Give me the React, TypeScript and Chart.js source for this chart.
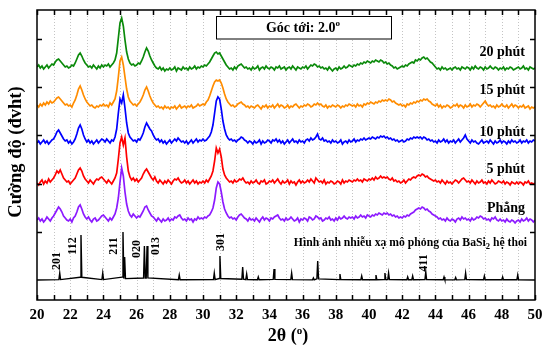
import React, { useEffect, useRef } from "react";
import { Chart, registerables } from "chart.js";

Chart.register(...registerables);

// 2θ sampling grid (degrees), 20.0 … 50.0 in 0.1° steps
const theta: number[] = Array.from({ length: 301 }, (_, i) => Math.round((20 + i * 0.1) * 10) / 10);

// Measured intensities (arbitrary units, stacked as plotted)
const phang = [
  80,82,79,81,78,80,83,81,79,82,
  84,87,90,93,91,88,84,82,80,79,
  81,78,82,84,88,93,95,91,86,83,
  81,83,80,78,81,82,79,80,82,84,
  85,83,81,79,82,80,83,86,92,102,
  118,132,124,108,96,89,85,83,86,84,
  82,84,83,86,89,93,94,90,87,84,
  83,81,79,82,80,78,81,79,80,82,
  79,81,80,83,82,84,85,82,80,81,
  79,82,80,81,78,81,80,83,81,82,
  81,83,82,84,85,88,92,100,112,118,
  116,108,98,91,87,84,82,83,81,82,
  80,83,85,86,84,82,81,79,82,80,
  81,79,82,80,78,81,83,80,82,81,
  79,82,81,83,84,85,82,80,81,79,
  82,80,81,83,81,79,80,82,78,81,
  80,82,81,79,83,82,80,81,84,83,
  81,82,79,80,82,81,83,80,81,79,
  82,80,83,81,82,84,82,81,83,82,
  83,81,84,82,83,85,83,84,82,85,
  84,83,85,84,86,85,87,86,85,87,
  86,87,85,86,84,85,83,84,82,83,
  82,84,83,85,84,86,87,88,90,91,
  92,91,93,92,90,91,89,88,86,85,
  84,83,81,82,80,81,79,82,80,79,
  81,80,78,81,82,80,83,81,82,80,
  81,79,82,80,81,83,82,84,83,81,
  82,80,81,79,82,81,83,80,79,81,
  79,80,78,81,79,78,80,79,77,79,
  80,78,81,79,80,82,79,81,80,78,
  80,
];

const phut5 = [
  117,115,118,120,116,119,117,121,118,120,
  122,125,129,127,130,126,122,120,118,119,
  116,118,120,122,126,130,132,129,124,121,
  119,117,120,118,116,119,121,120,122,123,
  121,119,117,120,118,116,119,122,127,141,
  157,163,155,162,143,129,123,120,122,119,
  121,118,120,122,126,129,131,128,125,122,
  120,123,119,117,120,118,116,119,117,120,
  118,116,119,121,120,122,119,117,118,120,
  117,119,116,118,120,117,119,116,118,117,
  119,117,120,118,121,124,129,139,152,147,
  151,143,131,125,122,120,118,119,117,120,
  118,119,121,120,122,119,117,118,116,119,
  117,118,120,117,116,119,118,120,116,117,
  119,118,120,117,119,121,118,116,119,117,
  118,120,116,119,117,118,115,118,120,117,
  119,117,118,120,118,121,119,117,122,120,
  118,119,117,120,116,118,117,119,118,116,
  117,119,118,116,120,117,119,118,120,119,
  118,120,119,121,119,120,118,121,120,119,
  121,120,122,120,123,121,122,124,122,123,
  122,123,121,120,122,119,120,118,119,117,
  118,120,117,119,121,120,122,123,122,124,
  125,124,126,125,123,124,122,121,120,119,
  120,118,119,117,120,118,116,119,117,118,
  116,118,120,119,117,119,121,122,120,118,
  119,117,120,118,116,119,117,118,120,117,
  118,116,119,117,120,118,116,117,119,118,
  117,119,116,118,117,115,118,117,116,118,
  116,118,117,115,118,117,119,116,117,116,
  117,
];

const phut10 = [
  157,159,156,158,160,157,159,156,158,160,
  161,164,168,170,167,164,161,159,160,157,
  159,156,158,161,166,172,175,171,165,161,
  158,160,157,159,156,158,160,157,159,161,
  160,158,161,159,157,160,159,163,171,187,
  201,197,205,192,177,167,163,161,159,160,
  158,161,160,163,167,173,177,174,171,169,
  165,162,160,161,158,160,157,159,156,158,
  160,157,159,161,159,162,160,158,159,157,
  159,156,158,160,157,159,161,158,160,159,
  161,159,160,162,164,168,175,187,199,203,
  201,191,179,171,165,162,160,161,159,160,
  158,160,161,163,162,160,159,157,159,158,
  156,159,157,158,160,156,159,157,158,160,
  159,157,160,159,161,158,160,157,159,156,
  158,160,157,159,161,158,159,157,160,158,
  159,157,160,161,159,162,160,161,163,166,
  161,160,162,159,160,158,159,157,160,158,
  159,157,158,160,156,158,159,157,160,158,
  159,161,158,160,159,161,160,162,160,161,
  162,161,163,162,161,163,162,164,163,164,
  162,163,161,162,160,161,159,160,158,159,
  160,158,159,161,160,162,161,163,162,163,
  162,163,161,163,162,160,161,159,160,158,
  159,157,160,158,159,161,158,160,157,159,
  158,160,157,159,161,158,160,162,165,161,
  159,157,160,158,159,157,156,158,160,157,
  158,159,157,160,158,156,159,157,158,160,
  157,159,158,156,159,157,160,158,159,157,
  158,160,157,159,158,160,157,159,158,160,
  159,
];

const phut15 = [
  195,193,196,194,197,195,198,196,199,197,
  198,200,202,203,201,199,197,195,196,194,
  195,193,197,200,205,211,214,210,205,201,
  198,196,194,195,193,192,194,193,195,194,
  196,194,195,193,197,195,198,201,209,223,
  239,243,235,223,211,203,199,197,195,196,
  194,196,198,201,205,210,213,209,204,200,
  197,195,193,194,192,193,191,194,192,193,
  191,193,192,194,191,193,195,192,193,194,
  192,194,193,195,192,193,194,196,194,195,
  196,195,198,200,204,209,214,218,220,219,
  220,217,212,206,201,198,196,194,195,193,
  194,196,197,198,196,195,193,194,192,194,
  193,192,194,195,193,191,194,193,195,192,
  194,193,195,192,194,196,193,195,194,192,
  193,195,192,194,193,195,196,194,192,194,
  193,195,194,196,195,193,194,196,195,197,
  195,196,194,193,195,192,194,193,195,194,
  193,195,194,192,194,193,195,194,196,195,
  194,195,193,196,194,195,193,196,195,197,
  196,198,197,196,198,197,199,198,200,199,
  200,199,201,200,198,199,197,196,195,196,
  194,195,193,196,195,197,196,198,197,199,
  198,200,199,201,200,201,199,198,196,195,
  194,196,193,195,192,194,193,195,194,192,
  193,195,194,196,193,195,194,192,195,193,
  194,196,193,195,194,196,195,193,195,197,
  199,196,194,195,193,194,192,195,193,194,
  196,194,193,195,192,194,196,193,195,194,
  192,194,193,195,192,193,194,191,193,192,
  193,
];

const phut20 = [
  233,235,232,234,231,233,235,232,234,236,
  235,238,240,241,239,237,235,233,234,232,
  233,235,234,237,241,245,247,244,240,237,
  235,233,234,232,235,233,231,234,232,235,
  233,235,234,236,233,235,237,240,247,262,
  277,282,274,260,248,241,237,235,236,234,
  235,237,236,239,243,248,252,249,244,240,
  237,234,232,231,233,230,232,229,231,230,
  232,230,231,233,229,232,231,230,233,231,
  232,230,233,231,232,234,231,233,232,234,
  233,235,234,236,238,241,244,247,248,246,
  247,244,241,238,235,233,231,232,230,233,
  231,234,235,236,234,232,233,231,232,230,
  233,231,232,234,230,232,233,231,234,232,
  231,233,232,230,233,232,234,231,232,233,
  230,232,233,231,234,232,230,233,232,231,
  233,232,234,231,233,235,234,236,235,233,
  234,232,233,231,232,230,233,231,229,231,
  232,230,233,231,232,234,232,233,235,234,
  233,235,234,236,235,237,236,238,237,239,
  238,237,239,238,240,239,238,240,239,237,
  238,236,237,235,234,232,233,231,232,233,
  234,233,235,234,236,237,238,237,240,239,
  241,240,242,243,241,242,240,238,237,235,
  233,231,232,230,233,231,232,230,231,232,
  230,232,233,231,232,230,233,232,231,233,
  232,230,233,231,234,232,231,233,232,230,
  233,231,232,234,232,231,233,232,230,232,
  231,233,230,232,231,233,232,230,231,232,
  233,231,232,234,231,232,230,233,232,231,
  232,
];

// Simulated BaSi2 (orthorhombic) pattern: peak positions (2θ) and heights
const simBaseline = 20;
const simPeakPos = [21.37, 22.65, 23.96, 25.18, 25.28, 26.47, 26.63, 28.57, 30.68, 31.02, 32.39, 32.63, 33.33, 34.28, 35.34, 36.65, 36.91, 38.25, 39.56, 40.42, 40.96, 41.18, 42.33, 42.63, 43.42, 44.52, 45.22, 45.82, 46.95, 48.05, 48.96];
const simPeakHeight = [7, 45, 7, 48, 23, 34, 34, 5, 7, 24, 13, 6, 3, 11, 7, 2, 19, 6, 4, 5, 7, 7, 3, 4, 8, 3, 2.5, 7, 4, 3, 5];

// Miller index labels
const hklText = ["201", "112", "211", "020", "013", "301", "411"];
const hklX = [21.2, 22.17, 24.64, 26.02, 27.17, 31.08, 43.3];
const hklY = [39, 54, 54, 51, 54, 58, 37];

const seriesNames = ["Phẳng", "5 phút", "10 phút", "15 phút", "20 phút"];
const seriesColors = ["#8c1aff", "#ff0000", "#0000ff", "#ff8c00", "#0a8a0a"];
const seriesLabelY = [93, 132, 169, 211, 249];

const xTickStart = 20;
const xTickEnd = 50;
const yTickValues = [68, 116, 165, 213, 261];

const SERIF = "'Liberation Serif', 'Times New Roman', 'DejaVu Serif', serif";

type Part = { t: string; size: number; dy?: number };

function drawRich(ctx: CanvasRenderingContext2D, parts: Part[], x: number, y: number, align: "left" | "center" | "right") {
  ctx.save();
  ctx.textBaseline = "alphabetic";
  ctx.textAlign = "left";
  let total = 0;
  const widths = parts.map((p) => {
    ctx.font = `bold ${p.size}px ${SERIF}`;
    const w = ctx.measureText(p.t).width;
    total += w;
    return w;
  });
  let cx = align === "left" ? x : align === "center" ? x - total / 2 : x - total;
  parts.forEach((p, i) => {
    ctx.font = `bold ${p.size}px ${SERIF}`;
    ctx.fillText(p.t, cx, y + (p.dy || 0));
    cx += widths[i];
  });
  ctx.restore();
}

const overlay = {
  id: "overlay",
  beforeDatasetsDraw(chart: any) {
    const { ctx, chartArea } = chart;
    const { top, bottom } = chartArea;
    const xs = chart.scales.x;
    ctx.save();
    ctx.strokeStyle = "#c4c4c4";
    ctx.lineWidth = 1;
    ctx.setLineDash([1, 2]);
    for (let v = xTickStart + 1; v < xTickEnd; v++) {
      const px = Math.round(xs.getPixelForValue(v)) + 0.5;
      ctx.beginPath();
      ctx.moveTo(px, top);
      ctx.lineTo(px, bottom);
      ctx.stroke();
    }
    ctx.restore();
  },
  afterDatasetsDraw(chart: any) {
    const { ctx, chartArea } = chart;
    const { left, right, top, bottom } = chartArea;
    const xs = chart.scales.x;
    const ys = chart.scales.y;
    ctx.save();
    ctx.strokeStyle = "#000";
    ctx.fillStyle = "#000";
    ctx.lineWidth = 1.5;
    ctx.setLineDash([]);
    ctx.strokeRect(left, top, right - left, bottom - top);
    // inward ticks
    ctx.beginPath();
    for (let v = xTickStart; v <= xTickEnd; v++) {
      const px = Math.round(xs.getPixelForValue(v)) + 0.5;
      ctx.moveTo(px, bottom);
      ctx.lineTo(px, bottom - 5);
      ctx.moveTo(px, top);
      ctx.lineTo(px, top + 5);
    }
    yTickValues.forEach((v) => {
      const py = Math.round(ys.getPixelForValue(v)) + 0.5;
      ctx.moveTo(left, py);
      ctx.lineTo(left + 5, py);
      ctx.moveTo(right, py);
      ctx.lineTo(right - 5, py);
    });
    ctx.stroke();

    // incidence-angle box
    ctx.fillStyle = "#fff";
    ctx.fillRect(216, 16.5, 175, 22.5);
    ctx.lineWidth = 1;
    ctx.strokeRect(216.5, 16.5, 175, 22.5);
    ctx.fillStyle = "#000";
    drawRich(ctx, [{ t: "Góc tới: 2.0", size: 14 }, { t: "o", size: 9, dy: -6 }], 303, 32, "center");

    // series labels
    seriesNames.forEach((n, i) => {
      const py = ys.getPixelForValue(seriesLabelY[i]);
      drawRich(ctx, [{ t: n, size: 14 }], 525, py + 5, "right");
    });

    // simulation caption
    drawRich(
      ctx,
      [
        { t: "Hình ảnh nhiễu xạ mô phỏng của BaSi", size: 11.7 },
        { t: "2", size: 8.5, dy: 3 },
        { t: " hệ thoi", size: 11.7 },
      ],
      527,
      246,
      "right"
    );

    // hkl labels
    ctx.font = `bold 12px ${SERIF}`;
    ctx.textAlign = "center";
    ctx.textBaseline = "middle";
    hklText.forEach((t, i) => {
      ctx.save();
      ctx.translate(xs.getPixelForValue(hklX[i]), ys.getPixelForValue(hklY[i]));
      ctx.rotate(-Math.PI / 2);
      ctx.fillText(t, 0, 0);
      ctx.restore();
    });

    // axis titles
    ctx.save();
    ctx.translate(16, 152);
    ctx.rotate(-Math.PI / 2);
    ctx.font = `bold 18.5px ${SERIF}`;
    ctx.textAlign = "center";
    ctx.textBaseline = "middle";
    ctx.fillText("Cường độ (đvht)", 0, 0);
    ctx.restore();

    drawRich(
      ctx,
      [
        { t: "2θ (", size: 18 },
        { t: "o", size: 11, dy: -7 },
        { t: ")", size: 18 },
      ],
      288,
      341,
      "center"
    );
    ctx.restore();
  },
};

export default function App() {
  const ref = useRef<HTMLCanvasElement | null>(null);
  useEffect(() => {
    document.body.style.margin = "0";
    const canvas = ref.current;
    if (!canvas) return;

    const simPoints: { x: number; y: number }[] = [];
    simPeakPos.forEach((p, i) => {
      const h = simPeakHeight[i];
      simPoints.push({ x: p - 0.05, y: simBaseline + 0.06 * h });
      simPoints.push({ x: p, y: simBaseline + h });
      simPoints.push({ x: p + 0.05, y: simBaseline + 0.06 * h });
    });
    simPoints.sort((a, b) => a.x - b.x);
    simPoints.unshift({ x: xTickStart, y: simBaseline });
    simPoints.push({ x: xTickEnd, y: simBaseline });

    const seriesData = [phang, phut5, phut10, phut15, phut20];
    const datasets: any[] = [
      {
        label: "Mô phỏng",
        data: simPoints,
        borderColor: "#000",
        borderWidth: 1.4,
        pointRadius: 0,
        tension: 0,
      },
      ...seriesData.map((s, k) => ({
        label: seriesNames[k],
        data: theta.map((x, i) => ({ x, y: s[i] })),
        borderColor: seriesColors[k],
        borderWidth: 1.7,
        pointRadius: 0,
        tension: 0,
      })),
    ];

    const chart = new Chart(canvas, {
      type: "line",
      data: { datasets },
      options: {
        animation: false,
        responsive: false,
        devicePixelRatio: 1,
        layout: { padding: { top: 10, right: 7, left: 0, bottom: 0 } },
        plugins: { legend: { display: false }, tooltip: { enabled: false } },
        scales: {
          x: {
            type: "linear",
            min: xTickStart,
            max: xTickEnd,
            grid: { display: false, drawTicks: false },
            border: { display: false },
            ticks: {
              stepSize: 1,
              autoSkip: false,
              maxRotation: 0,
              padding: 6,
              color: "#000",
              font: { family: SERIF, size: 15, weight: "bold" },
              callback: (v: any) => (Number(v) % 2 === 0 ? String(v) : ""),
            },
            afterFit: (s: any) => {
              s.height = 45;
              s.paddingLeft = 0;
              s.paddingRight = 0;
            },
          },
          y: {
            type: "linear",
            min: 0,
            max: 290,
            grid: { display: false, drawTicks: false },
            border: { display: false },
            ticks: { display: false },
            afterFit: (s: any) => {
              s.width = 37;
            },
          },
        },
      } as any,
      plugins: [overlay],
    });
    return () => chart.destroy();
  }, []);

  return <canvas ref={ref} width={542} height={345} style={{ display: "block" }} />;
}
